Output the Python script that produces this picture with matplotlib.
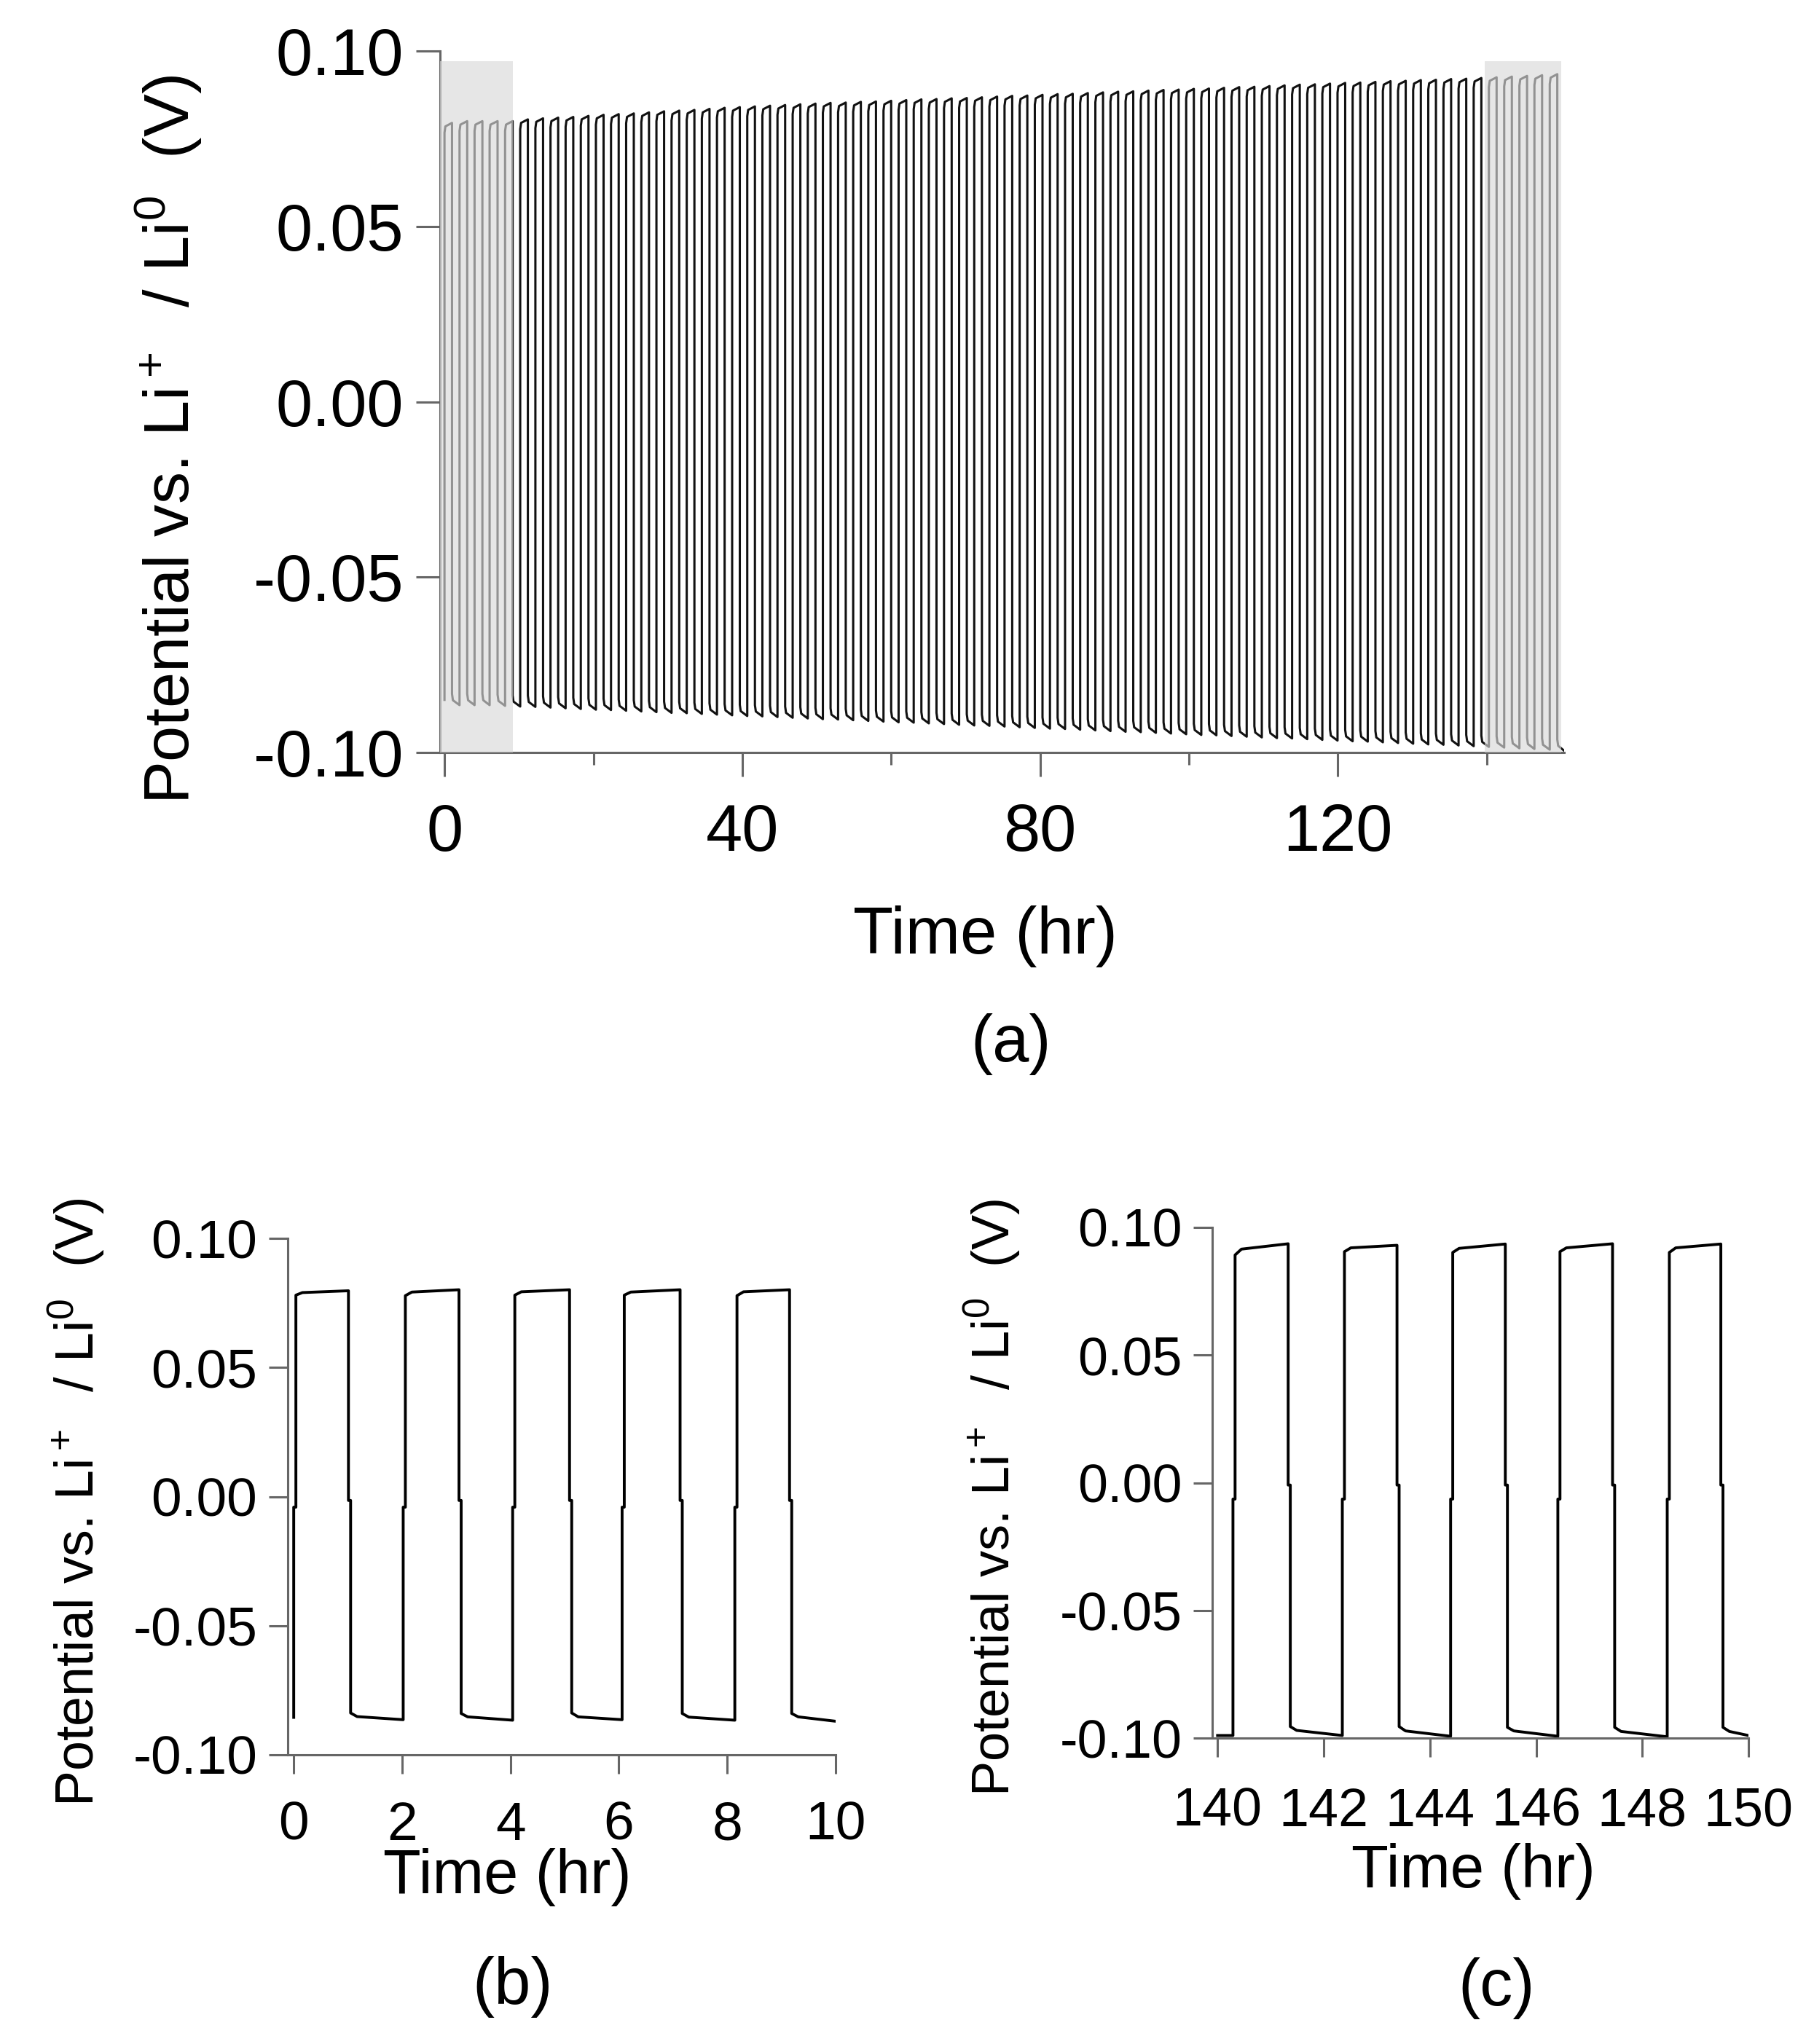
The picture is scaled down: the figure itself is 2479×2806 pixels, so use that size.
import numpy as np
import matplotlib
matplotlib.use("Agg")
import matplotlib.pyplot as plt

plt.rcParams["font.family"] = ["Liberation Sans", "DejaVu Sans"]
plt.rcParams["mathtext.fontset"] = "custom"
plt.rcParams["mathtext.rm"] = "Liberation Sans"
plt.rcParams["mathtext.it"] = "Liberation Sans"
plt.rcParams["axes.unicode_minus"] = False

# ── Data ──────────────────────────────────────────────────────────────────────
# (a) full run: one entry per cycle, rise / fall time (hr) and end-of-plateau levels (V)
rise_a = [0.00, 2.02, 4.04, 6.06, 8.14, 10.17, 12.21, 14.24, 16.27, 18.31,
          20.34, 22.37, 24.40, 26.44, 28.47, 30.50, 32.54, 34.57, 36.60, 38.64,
          40.67, 42.70, 44.73, 46.77, 48.80, 50.83, 52.87, 54.90, 56.93, 58.97,
          61.00, 63.03, 65.06, 67.10, 69.13, 71.16, 73.20, 75.23, 77.26, 79.30,
          81.33, 83.36, 85.39, 87.43, 89.46, 91.49, 93.53, 95.56, 97.59, 99.63,
          101.66, 103.69, 105.72, 107.76, 109.79, 111.82, 113.86, 115.89, 117.92, 119.96,
          121.99, 124.02, 126.05, 128.09, 130.12, 132.15, 134.19, 136.22, 138.25, 140.29,
          142.35, 144.39, 146.41, 148.47]
fall_a = [1.01, 3.05, 5.09, 7.13, 9.15, 11.20, 13.24, 15.27, 17.30, 19.34,
          21.37, 23.40, 25.43, 27.47, 29.50, 31.53, 33.57, 35.60, 37.63, 39.67,
          41.70, 43.73, 45.76, 47.80, 49.83, 51.86, 53.90, 55.93, 57.96, 60.00,
          62.03, 64.06, 66.09, 68.13, 70.16, 72.19, 74.23, 76.26, 78.29, 80.33,
          82.36, 84.39, 86.42, 88.46, 90.49, 92.52, 94.56, 96.59, 98.62, 100.66,
          102.69, 104.72, 106.75, 108.79, 110.82, 112.85, 114.89, 116.92, 118.95, 120.99,
          123.02, 125.05, 127.08, 129.12, 131.15, 133.18, 135.22, 137.25, 139.28, 141.33,
          143.38, 145.42, 147.44, 149.48]
high_a = [0.0795, 0.0800, 0.0800, 0.0800, 0.0800, 0.0805, 0.0808, 0.0810, 0.0812, 0.0815,
          0.0818, 0.0820, 0.0822, 0.0825, 0.0828, 0.0830, 0.0832, 0.0835, 0.0838, 0.0840,
          0.0842, 0.0844, 0.0846, 0.0848, 0.0850, 0.0852, 0.0853, 0.0855, 0.0856, 0.0858,
          0.0860, 0.0862, 0.0863, 0.0865, 0.0866, 0.0868, 0.0870, 0.0872, 0.0873, 0.0875,
          0.0877, 0.0878, 0.0880, 0.0882, 0.0884, 0.0885, 0.0887, 0.0889, 0.0890, 0.0892,
          0.0893, 0.0895, 0.0897, 0.0898, 0.0900, 0.0902, 0.0904, 0.0905, 0.0907, 0.0909,
          0.0910, 0.0912, 0.0914, 0.0915, 0.0917, 0.0918, 0.0920, 0.0921, 0.0923, 0.0925,
          0.0927, 0.0929, 0.0931, 0.0934]
low_a = [-0.0865, -0.0865, -0.0865, -0.0867, -0.0869, -0.0870, -0.0872, -0.0874, -0.0876, -0.0878,
         -0.0879, -0.0881, -0.0883, -0.0885, -0.0887, -0.0888, -0.0890, -0.0892, -0.0894, -0.0896,
         -0.0897, -0.0899, -0.0901, -0.0903, -0.0905, -0.0906, -0.0908, -0.0910, -0.0912, -0.0914,
         -0.0915, -0.0917, -0.0919, -0.0921, -0.0923, -0.0924, -0.0926, -0.0928, -0.0930, -0.0932,
         -0.0933, -0.0935, -0.0937, -0.0939, -0.0941, -0.0942, -0.0944, -0.0946, -0.0948, -0.0950,
         -0.0951, -0.0953, -0.0955, -0.0957, -0.0959, -0.0960, -0.0962, -0.0964, -0.0966, -0.0968,
         -0.0969, -0.0971, -0.0973, -0.0975, -0.0977, -0.0978, -0.0980, -0.0982, -0.0984, -0.0986,
         -0.0988, -0.0990, -0.0992, -0.0995]
start_a = (0.0, -0.0850)
end_a = 150.4
# offsets of the plateau start / knee from the end-of-plateau level in (a)
hi_offsets_a = (-0.0028, -0.0010)
lo_offsets_a = (0.0032, 0.0014)
shade_a = [(-0.6, 9.2), (139.7, 150.0)]
shade_top_a = 0.097

# (b) first 10 hr
rise_b = [0.00, 2.02, 4.04, 6.06, 8.14]
fall_b = [1.01, 3.05, 5.09, 7.13, 9.15]
hi_start_b = [0.0780, 0.0778, 0.0780, 0.0780, 0.0778]
hi_knee_b = [0.0790, 0.0792, 0.0793, 0.0792, 0.0793]
hi_end_b = [0.0797, 0.0801, 0.0801, 0.0801, 0.0801]
lo_start_b = [-0.0838, -0.0840, -0.0838, -0.0840, -0.0840]
lo_knee_b = [-0.0852, -0.0853, -0.0853, -0.0854, -0.0853]
lo_end_b = [-0.0864, -0.0866, -0.0864, -0.0866, -0.0870]
start_b = (0.0, -0.0855)
end_b = 10.0
mid_b = (-0.0041, -0.0015)    # sample caught mid-transition (rise, fall)

# (c) last 10 hr
rise_c = [140.29, 142.35, 144.39, 146.41, 148.47]
fall_c = [141.33, 143.38, 145.42, 147.44, 149.48]
hi_start_c = [0.0892, 0.0905, 0.0902, 0.0905, 0.0902]
hi_knee_c = [0.0915, 0.0920, 0.0918, 0.0920, 0.0920]
hi_end_c = [0.0936, 0.0930, 0.0935, 0.0936, 0.0935]
lo_start_c = [-0.0955, -0.0955, -0.0958, -0.0958, -0.0958]
lo_knee_c = [-0.0970, -0.0972, -0.0972, -0.0974, -0.0974]
lo_end_c = [-0.0990, -0.0993, -0.0993, -0.0995, -0.0990]
start_c = (140.0, -0.0990)
end_c = 150.0
mid_c = (-0.0064, -0.0009)

yticks = [-0.10, -0.05, 0.00, 0.05, 0.10]
xticks_a = [0, 40, 80, 120]
xminor_a = [20, 60, 100, 140]
xticks_b = [0, 2, 4, 6, 8, 10]
xticks_c = [140, 142, 144, 146, 148, 150]

YLABEL = r"Potential vs. Li$^+$  / Li$^0$  (V)"
XLABEL = "Time (hr)"

KNEE_DT = 0.12   # hr after a step at which the plateau has mostly settled
JOG = 0.04       # horizontal offset of the mid-step sample


def square_wave(start, rises, falls, hi, lo, t_end, mids=None):
    """hi / lo: (start, knee, end) level lists for every plateau."""
    t, v = [start[0]], [start[1]]
    for i in range(len(rises)):
        for tt, (h0, hk, h1), mid in ((rises[i], hi, 0), (falls[i], lo, 1)):
            t.append(tt); v.append(v[-1])
            t0 = tt
            if mids is not None:
                t += [tt, tt + JOG]; v += [mids[mid], mids[mid]]
                t0 = tt + JOG
            t += [t0, t0 + KNEE_DT]; v += [h0[i], hk[i]]
            nxt = falls[i] if mid == 0 else (rises[i + 1] if i + 1 < len(rises) else t_end)
            t.append(nxt); v.append(h1[i])
    return np.array(t), np.array(v)


W, H = 2479, 2806
fig = plt.figure(figsize=(W / 100, H / 100), dpi=100)


def px_axes(x0, y0, x1, y1):
    return fig.add_axes([x0 / W, 1 - y1 / H, (x1 - x0) / W, (y1 - y0) / H])


def fpos(x, y):
    return x / W, 1 - y / H


SPINE = "#666666"


def style(ax, tick_fs, major_len, xpad, ypad):
    for s in ("top", "right"):
        ax.spines[s].set_visible(False)
    for s in ("left", "bottom"):
        ax.spines[s].set_color(SPINE)
        ax.spines[s].set_linewidth(2.2)
    ax.set_ylim(-0.10, 0.10)
    ax.set_yticks(yticks)
    ax.set_yticklabels([f"{v:.2f}" for v in yticks])
    ax.tick_params(which="major", direction="out", length=major_len, width=2.2,
                   color=SPINE, labelsize=tick_fs)
    ax.tick_params(axis="x", pad=xpad)
    ax.tick_params(axis="y", pad=ypad)
    ax.tick_params(which="minor", direction="out", length=major_len * 0.5, width=2.2,
                   color=SPINE)


# ── (a) ───────────────────────────────────────────────────────────────────────
ax_a = px_axes(604, 70, 2147, 1033)
hi_a = (np.array(high_a) + hi_offsets_a[0], np.array(high_a) + hi_offsets_a[1], high_a)
lo_a = (np.array(low_a) + lo_offsets_a[0], np.array(low_a) + lo_offsets_a[1], low_a)
ta, va = square_wave(start_a, rise_a, fall_a, hi_a, lo_a, end_a)
ax_a.plot(ta, va, color="#111111", lw=2.2, zorder=2)
for x0, x1 in shade_a:
    ax_a.fill_between([x0, x1], -0.10, shade_top_a, color="#d9d9d9", alpha=0.65,
                      lw=0, zorder=3)
ax_a.set_xlim(-0.6, 150.4)
ax_a.set_xticks(xticks_a)
ax_a.set_xticks(xminor_a, minor=True)
style(ax_a, 65, 24, 26, 12)
ax_a.set_xlabel(XLABEL, fontsize=65, va="center")
ax_a.xaxis.set_label_coords(*fpos(1352, 1285), transform=fig.transFigure)
ax_a.set_ylabel(YLABEL, fontsize=63.5, va="center")
ax_a.yaxis.set_label_coords(*fpos(232, 603), transform=fig.transFigure)
fig.text(*fpos(1388, 1433), "(a)", fontsize=65, ha="center", va="center")

# ── (b) ───────────────────────────────────────────────────────────────────────
ax_b = px_axes(395, 1700, 1147, 2409)
tb, vb = square_wave(start_b, rise_b, fall_b,
                     (hi_start_b, hi_knee_b, hi_end_b),
                     (lo_start_b, lo_knee_b, lo_end_b), end_b, mids=mid_b)
ax_b.plot(tb, vb, color="black", lw=2.8, zorder=2)
ax_b.set_xlim(-0.11, 10.0)
ax_b.set_xticks(xticks_b)
style(ax_b, 54, 19, 26, 11)
ax_b.set_xlabel(XLABEL, fontsize=61, va="center")
ax_b.xaxis.set_label_coords(*fpos(696, 2577), transform=fig.transFigure)
ax_b.set_ylabel(YLABEL, fontsize=53, va="center")
ax_b.yaxis.set_label_coords(*fpos(105, 2062), transform=fig.transFigure)
fig.text(*fpos(704, 2727), "(b)", fontsize=65, ha="center", va="center")

# ── (c) ───────────────────────────────────────────────────────────────────────
ax_c = px_axes(1664, 1685, 2400, 2386)
tc, vc = square_wave(start_c, rise_c, fall_c,
                     (hi_start_c, hi_knee_c, hi_end_c),
                     (lo_start_c, lo_knee_c, lo_end_c), end_c, mids=mid_c)
ax_c.plot(tc, vc, color="black", lw=2.8, zorder=2)
ax_c.set_xlim(139.9, 150.0)
ax_c.set_xticks(xticks_c)
style(ax_c, 53, 19, 29, 11)
ax_c.set_xlabel(XLABEL, fontsize=60, va="center")
ax_c.xaxis.set_label_coords(*fpos(2022, 2569), transform=fig.transFigure)
ax_c.set_ylabel(YLABEL, fontsize=52, va="center")
ax_c.yaxis.set_label_coords(*fpos(1362, 2056), transform=fig.transFigure)
fig.text(*fpos(2054, 2730), "(c)", fontsize=65, ha="center", va="center")

fig.savefig("out.png", dpi=100)
